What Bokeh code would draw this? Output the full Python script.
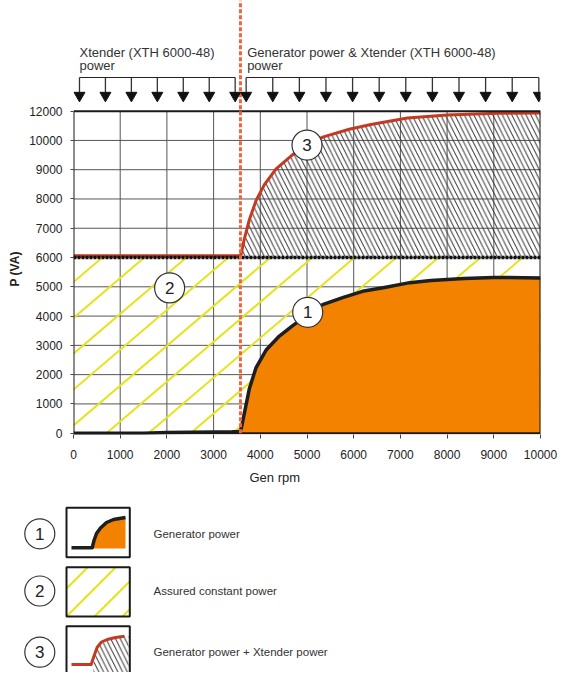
import numpy as np
from bokeh.plotting import figure
from bokeh.models import Range1d, FixedTicker, Title
from bokeh.layouts import column
from bokeh.embed import file_html
from bokeh.resources import INLINE
from bokeh.core.properties import value

# ---------------- data ----------------
x_ticks = [0, 1000, 2000, 3000, 4000, 5000, 6000, 7000, 8000, 9000, 10000]
y_tick_vals = [0, 1000, 2000, 3000, 4000, 5000, 6000, 7000, 8000, 9000, 10000, 11000]
y_tick_labels = ["0", "1000", "2000", "3000", "4000", "5000", "6000", "7000",
                 "8000", "9000", "10000", "12000"]

gen_rpm = [0, 1500, 2000, 2500, 3000, 3400, 3560, 3590, 3660, 3767, 3910, 4124,
           4408, 4694, 5015, 5335, 5763, 6190, 6688, 7200, 7650, 8361, 9000, 10000]
gen_va = [0, 0, 25, 35, 40, 45, 60, 150, 695, 1528, 2243, 2841,
          3317, 3675, 4040, 4390, 4630, 4845, 4988, 5142, 5213, 5285, 5320, 5303]

red_rpm = [0, 1000, 2000, 3000, 3560, 3590, 3660, 3767, 3910, 4088, 4338, 4694,
           5000, 5335, 5904, 6368, 7152, 8006, 9075, 10000]
red_va = [6065, 6065, 6065, 6065, 6070, 6110, 6649, 7299, 7948, 8490, 9029, 9516,
          9820, 10114, 10383, 10545, 10763, 10870, 10925, 10935]

assured_power = 6000
switch_rpm = 3575

marker_x = [5015, 2058, 5000]
marker_y = [4129, 4963, 9841]
marker_txt = ["1", "2", "3"]

left_title = ["Xtender (XTH 6000-48)", "power"]
right_title = ["Generator power & Xtender (XTH 6000-48)", "power"]
legend_txt = ["Generator power", "Assured constant power",
              "Generator power + Xtender power"]

FONT = "Liberation Sans"
Y_START = -45
Y_END = 14780
X_MAX = x_ticks[-1]
Y_TOP = y_tick_vals[-1]

# ---------------- main figure ----------------
p = figure(width=563, height=490, x_range=Range1d(0, X_MAX),
           y_range=Range1d(Y_START, Y_END), output_backend="svg",
           toolbar_location=None, min_border_left=72, min_border_right=23,
           min_border_top=0, min_border_bottom=56)
p.frame_align = False
p.outline_line_color = None
p.xgrid.grid_line_color = None
p.ygrid.grid_line_color = None

p.xaxis.ticker = FixedTicker(ticks=x_ticks)
p.yaxis.ticker = FixedTicker(ticks=y_tick_vals)
p.yaxis.major_label_overrides = {v: l for v, l in zip(y_tick_vals, y_tick_labels)}
p.axis.axis_line_color = None
p.axis.minor_tick_line_color = None
p.axis.major_tick_in = 0
p.yaxis.major_tick_out = 3
p.xaxis.major_tick_out = 4
p.axis.major_tick_line_color = "#444444"
p.axis.major_label_text_font = FONT
p.axis.major_label_text_font_size = "12px"
p.axis.major_label_text_color = "#222222"
p.yaxis.major_label_standoff = 8
p.xaxis.major_label_standoff = 11

p.add_layout(Title(text="P (VA)", align="left", offset=148, standoff=10,
                   text_font=FONT, text_font_size="12px",
                   text_font_style="bold", text_color="#222222"), "left")
p.add_layout(Title(text="Gen rpm", align="left", offset=176, standoff=12,
                   text_font=FONT, text_font_size="13px",
                   text_font_style="normal", text_color="#222222"), "below")

# grid lines
gx = x_ticks[1:-1]
p.segment(x0=gx, y0=[0] * len(gx), x1=gx, y1=[Y_TOP] * len(gx),
          line_color="#555555", line_width=1)
gy = y_tick_vals[1:-1]
p.segment(x0=[0] * len(gy), y0=gy, x1=[X_MAX] * len(gy), y1=gy,
          line_color="#555555", line_width=1)

# yellow diagonal lines (assured constant power area)
slope = 1.36          # VA per rpm (visual ~40 deg)
step = 900            # rpm between lines
x0s = np.arange(705 - 8 * step, X_MAX + step, step)
ys0, ys1, xs0, xs1 = [], [], [], []
for x0 in x0s:
    xa = max(0, x0)
    xb = min(X_MAX, x0 + assured_power / slope)
    if xa < xb:
        xs0.append(xa); ys0.append(slope * (xa - x0))
        xs1.append(xb); ys1.append(slope * (xb - x0))
p.segment(x0=xs0, y0=ys0, x1=xs1, y1=ys1, line_color="#e4e41c", line_width=2)

# hatched area (Xtender power on top of generator)
ri = [i for i, r in enumerate(red_rpm) if r >= 3590]
hx = [red_rpm[i] for i in ri] + [X_MAX, red_rpm[ri[0]]]
hy = [red_va[i] for i in ri] + [assured_power, assured_power]
p.patch(x=hx, y=hy, fill_alpha=0, line_color=None, hatch_pattern="\\",
        hatch_color="#333333", hatch_scale=9.5, hatch_weight=1)

# orange generator area
gi = [i for i, r in enumerate(gen_rpm) if r >= 3590]
ox = [gen_rpm[i] for i in gi] + [X_MAX, gen_rpm[gi[0]]]
oy = [gen_va[i] for i in gi] + [0, 0]
p.patch(x=ox, y=oy, fill_color="#f28200", line_color=None)

# curves
p.line(gen_rpm, gen_va, line_color="#1e1e1e", line_width=3.5, line_join="round")
p.line(red_rpm, red_va, line_color="#c23a22", line_width=3, line_join="round")

# assured constant power level
p.line([0, X_MAX], [assured_power, assured_power], line_color="#111111",
       line_width=3.5, line_dash="3 1")

# frame
p.line([0, X_MAX, X_MAX, 0, 0], [Y_TOP, Y_TOP, 0, 0, Y_TOP],
       line_color="#1a1a1a", line_width=2)

# switch line
p.segment(x0=[switch_rpm], y0=[0], x1=[switch_rpm], y1=[Y_END],
          line_color="#f0653f", line_width=3, line_dash="4 2")

# numbered markers
p.scatter(x=marker_x, y=marker_y, size=30, fill_color="white",
          line_color="#333333", line_width=1.2)
p.text(x=marker_x, y=marker_y, text=marker_txt, text_align="center",
       text_baseline="middle", text_font=value(FONT), text_font_size="17px",
       text_color="#222222")

# arrows above the chart
arr_left = list(np.linspace(128, 3462, 7))
arr_right = list(np.linspace(3697, 9964, 12))
y_bar, y_head = 12150, 11535
for grp in (arr_left, arr_right):
    p.segment(x0=[grp[0]], y0=[y_bar], x1=[grp[-1]], y1=[y_bar],
              line_color="#222222", line_width=1)
    p.segment(x0=grp, y0=[y_bar] * len(grp), x1=grp, y1=[y_head] * len(grp),
              line_color="#333333", line_width=1.3)
    p.scatter(x=grp, y=[y_head] * len(grp), marker="inverted_triangle", size=11,
              fill_color="#111111", line_color="#111111")

for xx, lines in ((128, left_title), (3718, right_title)):
    p.text(x=[xx, xx], y=[13004, 12543], text=lines, text_align="left",
           text_baseline="alphabetic", text_font=value(FONT),
           text_font_size="13px", text_color="#333333")

# ---------------- legend figure ----------------
LH = 182
L = figure(width=563, height=LH, x_range=Range1d(0, 563), y_range=Range1d(LH, 0),
           output_backend="svg", toolbar_location=None, min_border=0,
           x_axis_type=None, y_axis_type=None)
L.frame_align = False
L.outline_line_color = None
L.xgrid.grid_line_color = None
L.ygrid.grid_line_color = None

row_y = [43.3, 100.5, 161.7]
box_top = [17.3, 76.7, 135.7]
box_bot = [66.7, 126, 200]
BX0, BX1 = 66, 129.3

# icon 1
i1x = [71, 91.7, 93.5, 96, 100, 106, 113, 125]
i1y = [57.3, 57.3, 50, 43, 37.5, 32, 29, 27]
L.patch(x=i1x[1:] + [125, 91.7], y=i1y[1:] + [58, 58], fill_color="#f28200",
        line_color=None)
L.line(i1x, i1y, line_color="#1e1e1e", line_width=3.5, line_join="round")

# icon 2 yellow lines
lx0, ly0, lx1, ly1 = [], [], [], []
for x0 in np.arange(BX0 - 3 * 28, BX1 + 28, 28):
    xa = max(BX0, x0)
    xb = min(BX1, x0 + (126 - 76.7))
    if xa < xb:
        lx0.append(xa); ly0.append(126 - (xa - x0))
        lx1.append(xb); ly1.append(126 - (xb - x0))
L.segment(x0=lx0, y0=ly0, x1=lx1, y1=ly1, line_color="#e4e41c", line_width=2)

# icon 3
i3x = [71, 90.7, 93, 96.7, 101, 106.7, 115, 124]
i3y = [174, 174, 167, 156.7, 151.5, 149, 147, 145.7]
L.patch(x=i3x[2:] + [128, 128, 93], y=i3y[2:] + [145.7, 190, 190], fill_alpha=0,
        line_color=None, hatch_pattern="\\", hatch_color="#333333",
        hatch_scale=9.5, hatch_weight=1)
L.line(i3x, i3y, line_color="#c23a22", line_width=3, line_join="round")

L.quad(left=[BX0] * 3, right=[BX1] * 3, top=box_top, bottom=box_bot,
       fill_alpha=0, line_color="#1a1a1a", line_width=2)
L.scatter(x=[39.3] * 3, y=row_y, size=30, fill_color="white",
          line_color="#333333", line_width=1.2)
L.text(x=[39.3] * 3, y=row_y, text=marker_txt, text_align="center",
       text_baseline="middle", text_font=value(FONT), text_font_size="17px",
       text_color="#222222")
L.text(x=[153] * 3, y=row_y, text=legend_txt, text_align="left",
       text_baseline="middle", text_font=value(FONT), text_font_size="11.5px",
       text_color="#333333")

layout = column(p, L, spacing=0)
open("out.html", "w").write(file_html(layout, INLINE))
